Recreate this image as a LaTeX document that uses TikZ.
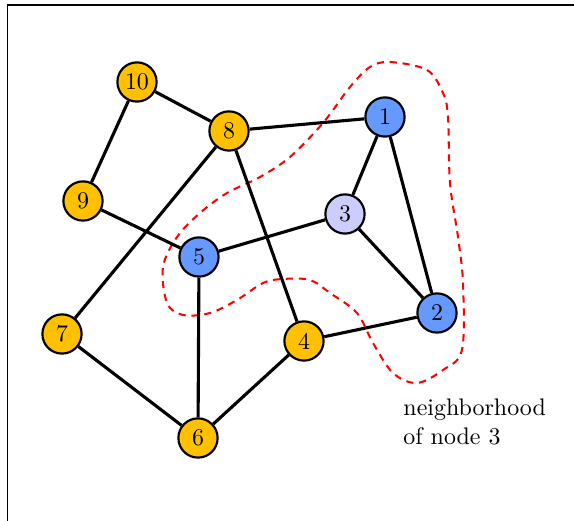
\documentclass[tikz,border=0pt]{standalone}
\definecolor{nyellow}{HTML}{FFC000}
\definecolor{nblue}{HTML}{6699FF}
\definecolor{npurple}{HTML}{CCCCFF}
\tikzset{
  vert/.style={circle, draw=black, line width=0.9pt, minimum size=16.4pt, inner sep=0pt, font=\normalsize},
  yv/.style={vert, fill=nyellow},
  bv/.style={vert, fill=nblue},
  pv/.style={vert, fill=npurple},
  edge/.style={line width=1.3pt},
  hood/.style={red, line width=0.85pt, dash pattern=on 3pt off 2.4pt}
}
\begin{document}
\begin{tikzpicture}[x=0.418pt, y=-0.418pt]
\useasboundingbox (0,0) rectangle (574,521);
\draw[line width=0.6pt] (7.5,521) -- (7.5,4.8) -- (574,4.8);
\draw[hood] plot[smooth cycle, tension=0.55] coordinates {
 (390,62) (427,70) (443,93) (448,117) (450,183) (458,237) (463,283) (462,350)
 (443,370) (417,383) (393,373) (373,343) (357,313) (330,293) (310,280) (283,279)
 (263,283) (237,300) (210,313) (183,315) (167,303) (163,267) (177,237) (200,213)
 (227,193) (260,177) (290,157) (323,123) (350,87) (370,67)};
\node[bv] (n1) at (385,117) {1};
\node[bv] (n2) at (437,313) {2};
\node[pv] (n3) at (345,214) {3};
\node[yv] (n4) at (304,341) {4};
\node[bv] (n5) at (199,257) {5};
\node[yv] (n6) at (198,438) {6};
\node[yv] (n7) at (62,334) {7};
\node[yv] (n8) at (229,131) {8};
\node[yv] (n9) at (83,201) {9};
\node[yv] (n10) at (137,82) {10};
\draw[edge] (n10) -- (n8);
\draw[edge] (n10) -- (n9);
\draw[edge] (n9) -- (n5);
\draw[edge] (n8) -- (n1);
\draw[edge] (n8) -- (n7);
\draw[edge] (n8) -- (n4);
\draw[edge] (n1) -- (n3);
\draw[edge] (n1) -- (n2);
\draw[edge] (n3) -- (n5);
\draw[edge] (n3) -- (n2);
\draw[edge] (n2) -- (n4);
\draw[edge] (n4) -- (n6);
\draw[edge] (n5) -- (n6);
\draw[edge] (n7) -- (n6);
\node[anchor=north west, inner sep=0pt, align=left] (lbl) at (403,398.5) {neighborhood\\of node 3};
\end{tikzpicture}
\end{document}
